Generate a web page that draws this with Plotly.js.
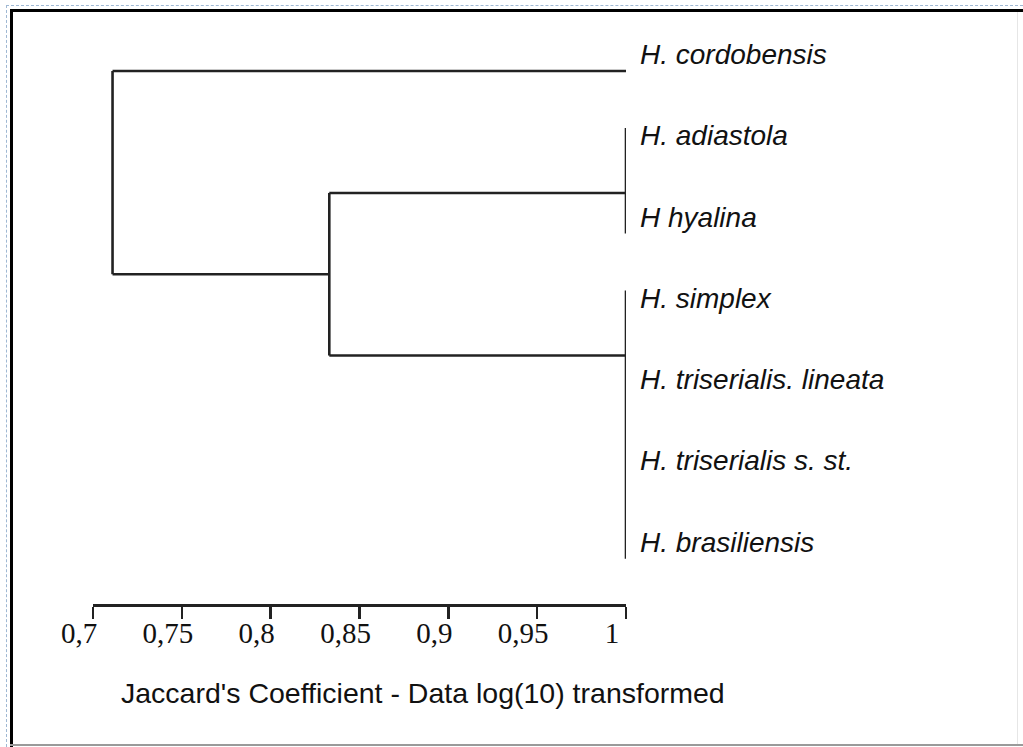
<!DOCTYPE html>
<html>
<head>
<meta charset="utf-8">
<script src="https://cdn.plot.ly/plotly-3.0.1.min.js"></script>
<style>
  html, body { margin: 0; padding: 0; background: #ffffff; overflow: hidden; }
  #wrap { position: relative; width: 1023px; height: 747px; overflow: hidden; background: #fff; }
  .ln { position: absolute; }
  #dashTop { left: 6px; top: 5px; width: 1017px; height: 0; border-top: 1px dashed #9fb8d3; }
  #dashLeft { left: 6px; top: 5px; width: 0; height: 742px; border-left: 1px dashed #9fb8d3; }
  #blkTop { left: 10px; top: 9px; width: 1013px; height: 3px; background: #000; }
  #blkLeft { left: 10px; top: 9px; width: 3px; height: 738px; background: #000; }
  #grayBottom { left: 10px; top: 744px; width: 1013px; height: 2px; background: #9a9a9a; }
  #faintRight { left: 1017px; top: 12px; width: 1px; height: 732px; background: #e6e6e6; }
  #chart { position: absolute; left: 0; top: 0; width: 1023px; height: 747px; }
</style>
</head>
<body>
<div id="wrap">
  <div class="ln" id="dashTop"></div>
  <div class="ln" id="dashLeft"></div>
  <div class="ln" id="blkTop"></div>
  <div class="ln" id="blkLeft"></div>
  <div class="ln" id="grayBottom"></div>
  <div class="ln" id="faintRight"></div>
  <div id="chart"></div>
</div>
<script>
// Leaf taxa, top to bottom (leaf order index = position)
const taxa = [
  "H. cordobensis",
  "H. adiastola",
  "H hyalina",
  "H. simplex",
  "H. triserialis. lineata",
  "H. triserialis s. st.",
  "H. brasiliensis"
];
const leafSimilarity = 1.0;

// Cluster nodes (Jaccard similarity at which members join)
const nodeNames   = ["adiastola+hyalina", "simplex group", "inner", "root"];
const nodeHeights = [1.0, 1.0, 0.833, 0.711];
// vertical extent of each node's bar (in leaf-order units) and attachment point
const nodeTop     = [0.7, 2.7, 1.5, 0.0];
const nodeBottom  = [2.0, 6.0, 3.5, 2.5];
const nodeCenter  = [1.5, 3.5, 2.5, 1.25];
// links: child -> parent ; child given as ["leaf", i] or ["node", j]
const links = [
  [["leaf", 0], 3],
  [["node", 2], 3],
  [["node", 0], 2],
  [["node", 1], 2]
];

// Axis ticks
const tickVals  = [0.7, 0.75, 0.8, 0.85, 0.9, 0.95, 1.0];
const tickText  = ["0,7", "0,75", "0,8", "0,85", "0,9", "0,95", "1"];
const xTitle = "Jaccard's Coefficient - Data log(10) transformed";

// Build segments
const xs = [], ys = [];
for (let j = 0; j < nodeHeights.length; j++) {
  xs.push(nodeHeights[j], nodeHeights[j], null);
  ys.push(nodeTop[j], nodeBottom[j], null);
}
for (const [child, p] of links) {
  let cx, cy;
  if (child[0] === "leaf") { cx = leafSimilarity; cy = child[1]; }
  else { cx = nodeHeights[child[1]]; cy = nodeCenter[child[1]]; }
  if (child[0] === "node" && nodeNames[p] === "root") cy = nodeBottom[p];
  xs.push(cx, nodeHeights[p], null);
  ys.push(cy, cy, null);
}

const trace = {
  x: xs, y: ys, type: "scatter", mode: "lines",
  line: { color: "#222222", width: 2.6 },
  hoverinfo: "skip", showlegend: false, cliponaxis: false
};

const annotations = taxa.map((t, i) => ({
  x: leafSimilarity, y: i, xref: "x", yref: "y",
  text: "<i>" + t + "</i>", showarrow: false,
  xanchor: "left", yanchor: "bottom", xshift: 12, yshift: -1,
  font: { family: "Liberation Sans, Arial, sans-serif", size: 28, color: "#111" }
}));
annotations.push({
  x: 119, y: 693, xref: "paper", yref: "paper",
  text: xTitle, showarrow: false, xanchor: "left", yanchor: "middle",
  font: { family: "Liberation Sans, Arial, sans-serif", size: 28.5, color: "#111" }
});

const L = 93, R = 626, T = 30, B = 604;
// convert title annotation pixel coords to paper coords
const pa = annotations[annotations.length - 1];
pa.x = (pa.x - L) / (R - L);
pa.y = (B - pa.y) / (B - T);

const layout = {
  width: 1023, height: 747,
  margin: { l: L, r: 1023 - R, t: T, b: 747 - B, pad: 0 },
  paper_bgcolor: "rgba(0,0,0,0)", plot_bgcolor: "rgba(0,0,0,0)",
  showlegend: false,
  xaxis: {
    range: [0.7, 1.0], tickvals: tickVals, ticktext: tickText,
    showgrid: false, zeroline: false, showline: true, linecolor: "#222222", linewidth: 2.6,
    ticks: "outside", ticklen: 12, tickwidth: 2.6, tickcolor: "#222222",
    ticklabelshift: -14, ticklabelstandoff: -10,
    tickfont: { family: "Liberation Serif, Times New Roman, serif", size: 29, color: "#111" },
    fixedrange: true
  },
  yaxis: {
    range: [6.556, -0.504], visible: false, fixedrange: true
  },
  annotations: annotations
};

Plotly.newPlot("chart", [trace], layout, { displayModeBar: false, staticPlot: true });
</script>
</body>
</html>
